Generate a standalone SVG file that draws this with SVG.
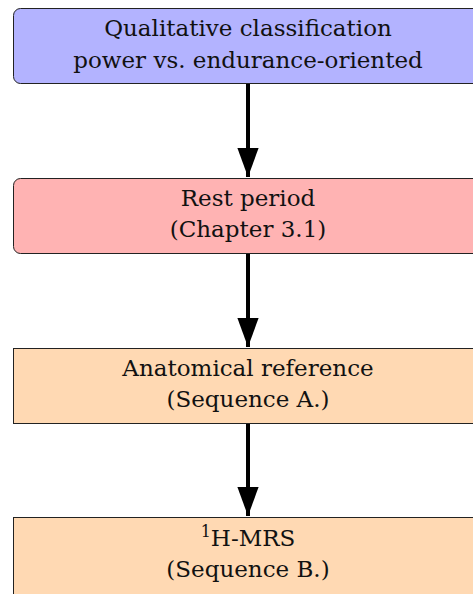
<svg xmlns="http://www.w3.org/2000/svg" width="473" height="594" viewBox="0 0 473 594">
<style>
.box{stroke:#222;stroke-width:1}
.t{font-family:"DejaVu Serif",serif;font-size:23px;fill:#111;text-anchor:middle}
.c{stroke:#000;stroke-width:4;fill:none}
</style>
<defs>
<marker id="ah" markerUnits="userSpaceOnUse" markerWidth="30" markerHeight="42" refX="41" refY="15" viewBox="0 0 42 30" orient="auto">
<path d="M0,0 L41,15 L0,30 Z" fill="#000"/>
</marker>
</defs>
<rect width="473" height="594" fill="#fff"/>
<g id="connectors">
<line class="c" x1="248" y1="84" x2="248" y2="177" marker-end="url(#ah)"/>
<line class="c" x1="248" y1="254" x2="248" y2="347" marker-end="url(#ah)"/>
<line class="c" x1="248" y1="424" x2="248" y2="516" marker-end="url(#ah)"/>
</g>
<g id="n1">
<rect class="box" x="13.5" y="8.5" width="470" height="75" rx="7" fill="#B3B3FF"/>
<text class="t" x="248" y="36">Qualitative classification</text>
<text class="t" x="248" y="68">power vs. endurance-oriented</text>
</g>
<g id="n2">
<rect class="box" x="13.5" y="178.5" width="470" height="75" rx="7" fill="#FFB3B3"/>
<text class="t" x="248" y="206">Rest period</text>
<text class="t" x="248" y="237">(Chapter 3.1)</text>
</g>
<g id="n3">
<rect class="box" x="13.5" y="348.5" width="470" height="75" fill="#FFD9B3"/>
<text class="t" x="248" y="376">Anatomical reference</text>
<text class="t" x="248" y="407">(Sequence A.)</text>
</g>
<g id="n4">
<rect class="box" x="13.5" y="517.5" width="470" height="100" fill="#FFD9B3"/>
<text class="t" x="248" y="546"><tspan font-size="16" dy="-9">1</tspan><tspan dy="9">H-MRS</tspan></text>
<text class="t" x="248" y="577">(Sequence B.)</text>
</g>
</svg>
